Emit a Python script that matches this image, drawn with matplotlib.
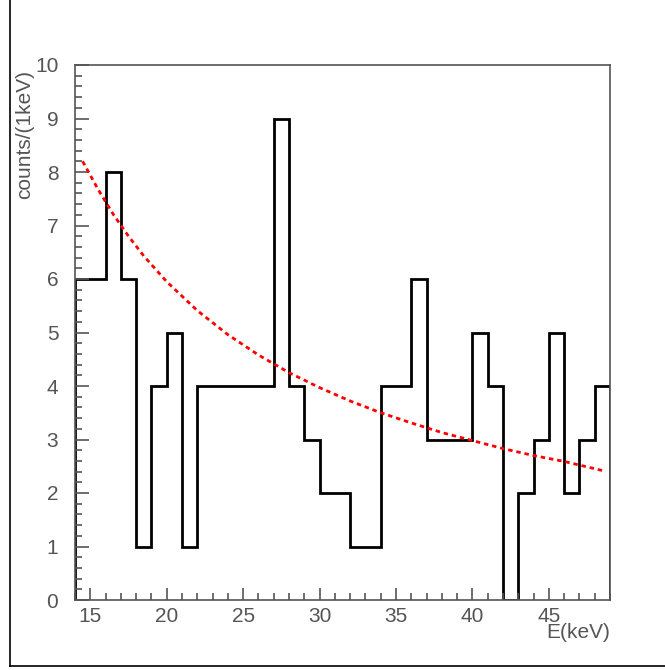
import numpy as np
import matplotlib
matplotlib.use("Agg")
import matplotlib.pyplot as plt
from matplotlib.lines import Line2D
from matplotlib.ticker import MultipleLocator

# ---- data ----
bin_edges = np.arange(14, 50, 1)          # 1 keV bins, 14..49 keV
counts = [6, 6, 8, 6, 1, 4, 5, 1, 4, 4,
          4, 4, 4, 9, 4, 3, 2, 2, 1, 1,
          4, 4, 6, 3, 3, 3, 5, 4, 0, 2,
          3, 5, 2, 3, 4]

# fitted curve (red dashed)
fit_x = [14.5, 15.5, 16.5, 17.5, 18.5, 20, 22, 24, 26, 28, 30,
         32, 34, 36, 38, 40, 42, 44, 46, 48.5]
fit_y = [8.20, 7.68, 7.21, 6.80, 6.43, 5.95, 5.41, 4.96, 4.58, 4.25, 3.97,
         3.72, 3.50, 3.31, 3.13, 2.98, 2.83, 2.70, 2.59, 2.42]

xlabel = "E(keV)"
ylabel = "counts/(1keV)"

# ---- figure ----
plt.rcParams['font.family'] = ['Liberation Sans', 'DejaVu Sans']
fig = plt.figure(figsize=(6.65, 6.70), dpi=100)
W, H = 665.0, 670.0
ax = fig.add_axes([75 / W, 1 - 600 / H, 535 / W, 535 / H])

# pad shadow lines (left + bottom), ROOT style
fig.add_artist(Line2D([9.5 / W, 9.5 / W], [1 - 665.5 / H, 1.0], color='black', lw=1.2,
                      transform=fig.transFigure))
fig.add_artist(Line2D([9.5 / W, 1.0], [1 - 665.5 / H, 1 - 665.5 / H], color='black', lw=1.2,
                      transform=fig.transFigure))

ax.stairs(counts, bin_edges, color='black', lw=2, baseline=0)
ax.plot(fit_x, fit_y, color='red', lw=2, linestyle=(0, (1.6, 1.4)))

ax.set_xlim(14, 49)
ax.set_ylim(0, 10)

ax.xaxis.set_major_locator(MultipleLocator(5))
ax.xaxis.set_minor_locator(MultipleLocator(1))
ax.yaxis.set_major_locator(MultipleLocator(1))
ax.yaxis.set_minor_locator(MultipleLocator(0.2))
ax.set_xticks([15, 20, 25, 30, 35, 40, 45])

tcol = '#555555'
ax.tick_params(which='both', direction='in', top=False, right=False,
               color='#555555', width=1.2, labelcolor=tcol, labelsize=15)
ax.tick_params(axis='y', which='major', length=10, pad=12)
ax.tick_params(axis='y', which='minor', length=5)
ax.tick_params(axis='x', which='major', length=9, pad=5)
ax.tick_params(axis='x', which='minor', length=5)

for s in ax.spines.values():
    s.set_color('#555555')
    s.set_linewidth(1.2)

ax.set_xlabel(xlabel, loc='right', color=tcol, fontsize=15)
ax.set_ylabel(ylabel, loc='top', color=tcol, fontsize=15)
ax.xaxis.set_label_coords(1.0, -0.043)
ax.yaxis.set_label_coords(-0.077, 0.99)

fig.savefig("out.png", dpi=100, facecolor='white')
